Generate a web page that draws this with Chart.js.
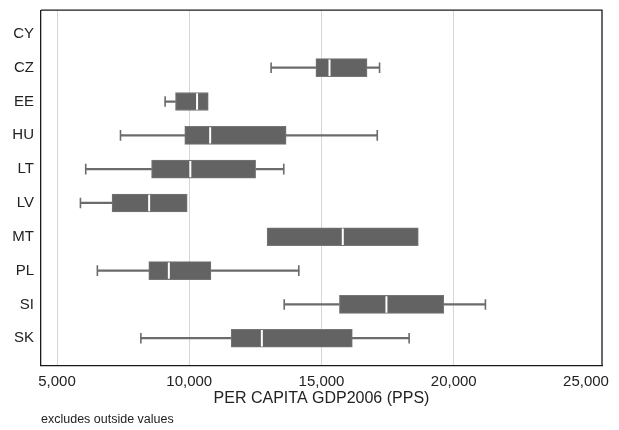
<!DOCTYPE html>
<html>
<head>
<meta charset="utf-8">
<script src="https://cdn.jsdelivr.net/npm/chart.js@4/dist/chart.umd.min.js"></script>
<style>
  html, body { margin: 0; padding: 0; background: #fff; }
  #wrap { width: 619px; height: 430px; }
</style>
</head>
<body>
<div id="wrap"><canvas id="gdp_box"></canvas></div>
<script>
// box plot values (PPS)
const categories  = ['CY', 'CZ', 'EE', 'HU', 'LT', 'LV', 'MT', 'PL', 'SI', 'SK'];
const whiskerLow  = [null, 13095, 9087, 7400, 6085, 5885, null, 6525, 13590, 8170];
const q1          = [null, 14788, 9480, 9830, 8575, 7080, 12943, 8470, 15678, 11583];
const median      = [null, 15303, 10295, 10790, 10040, 8483, 15805, 9228, 17455, 12745];
const q3          = [null, 16722, 10718, 13662, 12509, 9922, 18660, 10820, 19625, 16165];
const whiskerHigh = [null, 17195, null, 17108, 13573, null, null, 14142, 21198, 18313];
const xTicks      = [5000, 10000, 15000, 20000, 25000];

const fontFamily = '"Liberation Sans", Arial, Helvetica, sans-serif';

let boxes = [], lowWhiskers = [], highWhiskers = [], caps = [], medians = [];
categories.forEach(function(cat, i) {
    if (q1[i] !== null) boxes.push({ y: i, x: [q1[i], q3[i]] });
    if (median[i] !== null) medians.push({ x: median[i], y: i });
    if (whiskerLow[i] !== null) {
        lowWhiskers.push({ y: i, x: [whiskerLow[i], q1[i]] });
        caps.push({ x: whiskerLow[i], y: i });
    }
    if (whiskerHigh[i] !== null) {
        highWhiskers.push({ y: i, x: [q3[i], whiskerHigh[i]] });
        caps.push({ x: whiskerHigh[i], y: i });
    }
});

// top and right edges of the plot frame
const framePlugin = {
    id: 'frame',
    afterDraw(chart) {
        const a = chart.chartArea, ctx = chart.ctx;
        ctx.save();
        ctx.strokeStyle = '#1a1a1a';
        ctx.lineWidth = 1.3;
        ctx.beginPath();
        ctx.moveTo(a.left, a.top);
        ctx.lineTo(a.right, a.top);
        ctx.lineTo(a.right, a.bottom);
        ctx.stroke();
        ctx.restore();
    }
};

const whiskerStyle = {
    type: 'bar',
    indexAxis: 'y',
    grouped: false,
    barThickness: 1.6,
    backgroundColor: '#6b6b6b',
    borderWidth: 0,
    order: 3
};

new Chart(document.getElementById('gdp_box'), {
    type: 'bar',
    data: {
        datasets: [
            Object.assign({ label: 'low whisker', data: lowWhiskers }, whiskerStyle),
            Object.assign({ label: 'high whisker', data: highWhiskers }, whiskerStyle),
            {
                type: 'bar',
                label: 'box',
                indexAxis: 'y',
                grouped: false,
                barThickness: 18,
                data: boxes,
                backgroundColor: '#636363',
                borderColor: '#767676',
                borderWidth: 1,
                borderSkipped: false,
                order: 2
            },
            {
                type: 'scatter',
                label: 'caps',
                data: caps,
                pointStyle: 'line',
                rotation: 90,
                radius: 5.3,
                borderWidth: 1.6,
                borderColor: '#6b6b6b',
                order: 1
            },
            {
                type: 'scatter',
                label: 'median',
                data: medians,
                pointStyle: 'line',
                rotation: 90,
                radius: 8.2,
                borderWidth: 2,
                borderColor: '#ffffff',
                order: 0
            }
        ]
    },
    options: {
        responsive: true,
        maintainAspectRatio: false,
        animation: false,
        layout: { padding: { left: 0, right: 17, top: 0, bottom: 0 } },
        plugins: {
            legend: { display: false },
            tooltip: { enabled: false },
            title: {
                display: true,
                text: 'excludes outside values',
                position: 'bottom',
                align: 'start',
                fullSize: false,
                color: '#222',
                font: { family: fontFamily, size: 12.5, weight: 'normal' },
                padding: { top: 4, bottom: 2.5 }
            }
        },
        scales: {
            x: {
                type: 'linear',
                offset: false,
                min: 4394,
                max: 25606,
                afterBuildTicks(scale) {
                    scale.ticks = xTicks.map(function(v) { return { value: v }; });
                },
                ticks: {
                    color: '#222',
                    padding: 8,
                    maxRotation: 0,
                    font: { family: fontFamily, size: 15 },
                    callback: function(v) { return v.toLocaleString('en-US'); }
                },
                grid: {
                    offset: false,
                    drawTicks: false,
                    lineWidth: 1,
                    color: function(ctx) {
                        return ctx.tick && ctx.tick.value === 25000 ? 'rgba(0,0,0,0)' : '#d6d6d6';
                    }
                },
                border: { display: true, color: '#1a1a1a', width: 1.3 },
                title: {
                    display: true,
                    text: 'PER CAPITA GDP2006 (PPS)',
                    color: '#222',
                    font: { family: fontFamily, size: 16 },
                    padding: { top: -10, bottom: 0 }
                }
            },
            y: {
                type: 'linear',
                offset: false,
                reverse: true,
                min: -0.7,
                max: 9.8,
                afterBuildTicks(scale) {
                    scale.ticks = categories.map(function(c, i) { return { value: i }; });
                },
                afterFit(scale) { scale.width = 41; },
                ticks: {
                    color: '#222',
                    padding: 7,
                    font: { family: fontFamily, size: 15, lineHeight: 0.05 },
                    callback: function(v) { return categories[v]; }
                },
                grid: { display: false, offset: false, drawTicks: false },
                border: { display: true, color: '#1a1a1a', width: 1.3 }
            }
        }
    },
    plugins: [framePlugin]
});
</script>
</body>
</html>
